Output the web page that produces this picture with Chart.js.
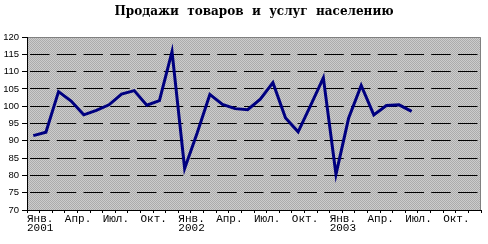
<!DOCTYPE html>
<html><head><meta charset="utf-8">
<script src="https://cdn.jsdelivr.net/npm/chart.js@4/dist/chart.umd.min.js"></script>
<style>html,body{margin:0;padding:0;background:#fff;}#wrap{width:488px;height:244px;position:relative;}</style>
</head><body><div id="wrap"><canvas id="c"></canvas></div>
<script>
const titleText = 'Продажи  товаров  и  услуг  населению';
const monthNames = ['Янв.','Фев.','Мар.','Апр.','Май','Июн.','Июл.','Авг.','Сен.','Окт.','Ноя.','Дек.'];
const years = ['2001','2002','2003'];
const values2001 = [91.5, 92.5, 104.2, 101.5, 97.5, 98.8, 100.4, 103.5, 104.5, 100.3, 101.6, 115.8];
const values2002 = [82.0, 92.3, 103.4, 100.5, 99.3, 99.0, 102.0, 106.8, 96.6, 92.6, 100.3, 108.2];
const values2003 = [80.3, 96.5, 106.0, 97.5, 100.2, 100.4, 98.5, null, null, null, null, null];
const yMin = 70, yMax = 120, yStep = 5;

const categories = [];
years.forEach(y => monthNames.forEach(m => categories.push(m + ' ' + y)));
const values = values2001.concat(values2002, values2003);

function makePattern(ctx) {
  const p = document.createElement('canvas');
  p.width = 2; p.height = 2;
  const g = p.getContext('2d');
  g.fillStyle = '#cccccc'; g.fillRect(0, 0, 2, 2);
  g.fillStyle = '#acacac'; g.fillRect(0, 0, 1, 1); g.fillRect(1, 1, 1, 1);
  return ctx.createPattern(p, 'repeat');
}

const plotBg = {
  id: 'plotBg',
  beforeDraw(chart) {
    const {ctx, chartArea: a} = chart;
    ctx.save();
    ctx.fillStyle = makePattern(ctx);
    ctx.fillRect(a.left, a.top, a.right - a.left, a.bottom - a.top);
    ctx.restore();
  },
  afterDraw(chart) {
    const {ctx, chartArea: a} = chart;
    ctx.save();
    ctx.lineWidth = 1;
    ctx.strokeStyle = '#808080';
    ctx.beginPath();
    ctx.moveTo(a.left, a.top + 0.5); ctx.lineTo(a.right - 0.5, a.top + 0.5); ctx.lineTo(a.right - 0.5, a.bottom);
    ctx.stroke();
    ctx.strokeStyle = '#000';
    ctx.beginPath();
    ctx.moveTo(a.left + 0.5, a.top); ctx.lineTo(a.left + 0.5, a.bottom + 0.5); ctx.lineTo(a.right, a.bottom + 0.5);
    ctx.stroke();
    ctx.fillStyle = '#000';
    ctx.font = 'bold 12px "DejaVu Serif"';
    ctx.textAlign = 'center';
    ctx.textBaseline = 'middle';
    ctx.fillText(titleText, (a.left + a.right) / 2, 12);
    ctx.restore();
  }
};

new Chart(document.getElementById('c'), {
  type: 'line',
  data: {
    labels: categories,
    datasets: [{
      data: values,
      borderColor: '#000080',
      borderWidth: 3,
      pointRadius: 0,
      tension: 0,
      fill: false,
      spanGaps: false
    }]
  },
  options: {
    responsive: true,
    maintainAspectRatio: false,
    animation: false,
    devicePixelRatio: 1,
    layout: {padding: {top: 37, right: 7, left: 0, bottom: 0}},
    plugins: {legend: {display: false}, title: {display: false}, tooltip: {enabled: false}},
    scales: {
      x: {
        type: 'category',
        offset: true,
        afterFit: s => { s.height = 34; },
        grid: {drawOnChartArea: false, offset: true, tickLength: 3, color: '#000'},
        border: {display: false},
        ticks: {
          autoSkip: false, maxRotation: 0, minRotation: 0,
          align: 'start', labelOffset: -6.3, padding: 1,
          color: '#000',
          font: {family: '"Liberation Mono"', size: 11, lineHeight: 0.85},
          callback: (v, i) => {
            if (i % 3 !== 0) return '';
            const m = monthNames[i % 12];
            return (i % 12 === 0) ? [m, years[i / 12]] : m;
          }
        }
      },
      y: {
        min: yMin, max: yMax,
        afterFit: s => { s.width = 27; },
        grid: {
          color: c => (c.tick && (c.tick.value === yMin || c.tick.value === yMax)) ? 'rgba(0,0,0,0)' : '#000',
          tickColor: '#000', tickLength: 5, tickBorderDash: []
        },
        border: {display: false, dash: [19.5, 7.25], dashOffset: 23.75},
        ticks: {stepSize: yStep, padding: 3, color: '#000', font: {family: '"Liberation Sans"', size: 9.5}}
      }
    }
  },
  plugins: [plotBg]
});
</script></body></html>
